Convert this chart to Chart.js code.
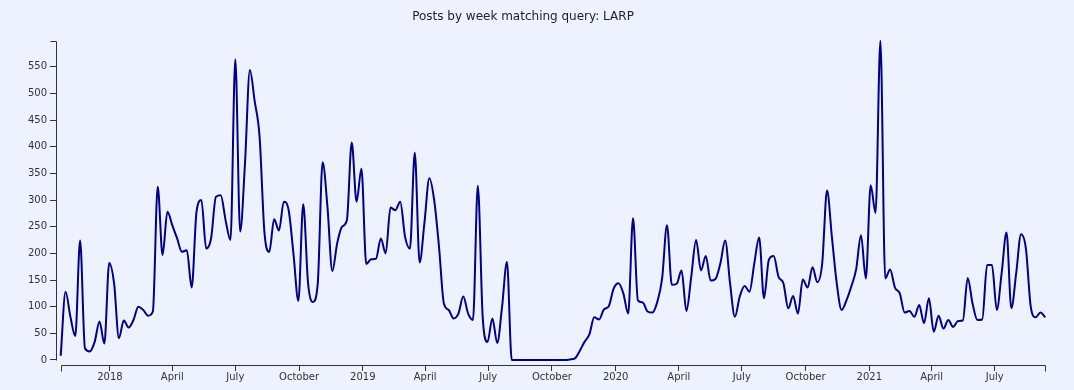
<!DOCTYPE html>
<html>
<head>
<meta charset="utf-8">
<script src="https://cdn.jsdelivr.net/npm/chart.js@4.4.1/dist/chart.umd.min.js"></script>
<style>
  html, body { margin: 0; padding: 0; background: #eef2fe; }
  #wrap { position: relative; width: 1074px; height: 390px; }
  #chart { position: absolute; left: 0; top: 0; }
  #title { position: absolute; left: 0; top: 9px; width: 1046px; text-align: center;
           font-family: "DejaVu Sans", sans-serif; font-size: 12px; line-height: 14px; color: #222; }
</style>
</head>
<body>
<div id="wrap">
  <canvas id="chart" width="1074" height="390"></canvas>
  <div id="title"></div>
</div>
<script>
// ---- data ----
const chartTitle = 'Posts by week matching query: LARP';
const firstWeek = '2017-10-22';
const weeklyPosts = [
  8, 128, 81, 45, 224, 22, 16, 34, 72, 31,
  182, 144, 41, 74, 61, 75, 100, 94, 83, 91,
  325, 197, 278, 253, 228, 203, 206, 136, 278, 300,
  209, 228, 306, 309, 262, 225, 564, 241, 370, 544,
  485, 419, 240, 203, 264, 243, 297, 281, 198, 111,
  292, 144, 109, 144, 371, 287, 167, 219, 250, 262,
  408, 297, 359, 180, 189, 190, 228, 200, 286, 281,
  297, 231, 209, 389, 183, 258, 341, 300, 212, 106,
  94, 78, 87, 119, 87, 75, 327, 81, 34, 78,
  32, 100, 184, 0, 0, 0, 0, 0, 0, 0,
  0, 0, 0, 0, 0, 1, 3, 17, 34, 48,
  80, 76, 95, 101, 134, 144, 125, 87, 266, 112,
  108, 91, 89, 109, 153, 253, 141, 143, 168, 92,
  156, 225, 168, 195, 149, 152, 181, 224, 144, 81,
  119, 139, 128, 181, 230, 116, 188, 195, 156, 144,
  97, 120, 87, 151, 136, 174, 146, 181, 318, 231,
  144, 94, 112, 138, 170, 234, 153, 328, 276, 599,
  153, 170, 136, 125, 89, 92, 81, 103, 69, 116,
  53, 83, 59, 75, 62, 73, 74, 154, 106, 75,
  76, 178, 178, 94, 163, 239, 97, 163, 236, 209,
  100, 80, 89, 80
];
const yTicks = [0, 50, 100, 150, 200, 250, 300, 350, 400, 450, 500, 550];
const xTickDates = ['2018-01-01', '2018-04-01', '2018-07-01', '2018-10-01',
                    '2019-01-01', '2019-04-01', '2019-07-01', '2019-10-01',
                    '2020-01-01', '2020-04-01', '2020-07-01', '2020-10-01',
                    '2021-01-01', '2021-04-01', '2021-07-01'];
const xTickLabels = ['2018', 'April', 'July', 'October',
                     '2019', 'April', 'July', 'October',
                     '2020', 'April', 'July', 'October',
                     '2021', 'April', 'July'];

// ---- helpers ----
const DAY = 86400000;
const t0 = Date.parse(firstWeek + 'T00:00:00Z');
const dayOffset = s => (Date.parse(s + 'T00:00:00Z') - t0) / DAY;
const points = weeklyPosts.map((v, i) => ({ x: i * 7, y: v }));
const lastDay = (weeklyPosts.length - 1) * 7;
const yMax = Math.max(...weeklyPosts);
const xTickDays = xTickDates.map(dayOffset);

document.getElementById('title').textContent = chartTitle;

const axisColor = '#333';
const tickFont = { family: 'DejaVu Sans', size: 10 };

const axisLines = {
  id: 'axisLines',
  afterDraw(chart) {
    const { ctx } = chart;
    const x = chart.scales.x, y = chart.scales.y;
    ctx.save();
    ctx.strokeStyle = axisColor;
    ctx.lineWidth = 1;
    ctx.beginPath();
    const xl = Math.round(y.right) + 0.5;
    const yTop = Math.round(y.getPixelForValue(yMax)) + 0.5;
    const y0 = Math.round(y.getPixelForValue(0)) + 0.5;
    ctx.moveTo(xl - 6, yTop); ctx.lineTo(xl, yTop); ctx.lineTo(xl, y0);
    const xb = Math.round(x.top) + 0.5;
    const xs = Math.round(x.getPixelForValue(0)) + 0.5;
    const xe = Math.round(x.getPixelForValue(lastDay)) + 0.5;
    ctx.moveTo(xs, xb + 6); ctx.lineTo(xs, xb); ctx.lineTo(xe, xb); ctx.lineTo(xe, xb + 6);
    ctx.stroke();
    ctx.restore();
  }
};

new Chart(document.getElementById('chart'), {
  type: 'line',
  data: {
    datasets: [{
      label: chartTitle,
      data: points,
      borderColor: '#00008b',
      borderWidth: 2,
      pointRadius: 0,
      pointHoverRadius: 0,
      fill: false,
      cubicInterpolationMode: 'monotone',
      clip: false
    }]
  },
  options: {
    responsive: false,
    animation: false,
    devicePixelRatio: 1,
    layout: { padding: { top: 40.7, right: 28.7, left: 0, bottom: 0 } },
    plugins: { legend: { display: false }, title: { display: false }, tooltip: { enabled: false } },
    scales: {
      x: {
        type: 'linear',
        min: -6.8,
        max: lastDay,
        afterBuildTicks: s => { s.ticks = xTickDays.map(v => ({ value: v })); },
        afterFit: s => { s.height = 25; },
        grid: { drawOnChartArea: false, drawTicks: true, tickLength: 6, color: axisColor },
        border: { display: false },
        ticks: {
          autoSkip: false, maxRotation: 0, minRotation: 0, padding: 0,
          font: tickFont, color: axisColor,
          callback: (v, i) => xTickLabels[i]
        }
      },
      y: {
        type: 'linear',
        min: -9.38,
        max: yMax,
        afterBuildTicks: s => { s.ticks = yTicks.map(v => ({ value: v })); },
        afterFit: s => { s.width = 56; },
        grid: { drawOnChartArea: false, drawTicks: true, tickLength: 6, color: axisColor },
        border: { display: false },
        ticks: { padding: 3, font: tickFont, color: axisColor, callback: v => String(v) }
      }
    }
  },
  plugins: [axisLines]
});
</script>
</body>
</html>
